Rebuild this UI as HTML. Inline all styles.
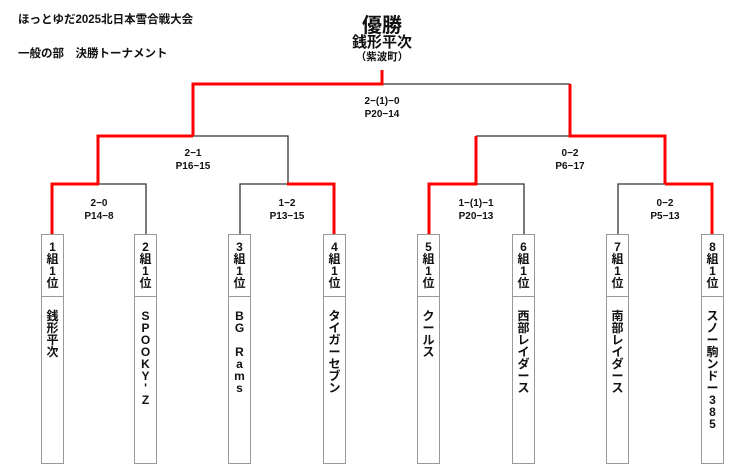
<!DOCTYPE html>
<html><head><meta charset="utf-8"><style>
body{margin:0;width:740px;height:467px;background:#fff;position:relative;overflow:hidden;font-family:"Liberation Sans","Noto Sans CJK JP",sans-serif;color:#111}
.t{position:absolute;font-weight:bold;white-space:nowrap}
.c{position:absolute;text-align:center;font-size:10px;line-height:13px;font-weight:bold;width:100px}
.box{position:absolute;top:234px;width:23px;height:230px;border:1px solid #999;box-sizing:border-box;background:#fff}
.box .h{height:62px;border-bottom:1px solid #999;padding-top:6px;box-sizing:border-box}
.col{display:flex;flex-direction:column;align-items:center;font-size:12px;font-weight:bold;line-height:12px}
.col span{height:12px}
.n{padding-top:13px}
</style></head><body>
<div class="t" style="left:18px;top:11px;font-size:11.5px">ほっとゆだ2025北日本雪合戦大会</div>
<div class="t" style="left:18px;top:45px;font-size:11.5px">一般の部　決勝トーナメント</div>
<div class="t" style="left:332px;top:9px;width:100px;text-align:center;font-size:20px">優勝</div>
<div class="t" style="left:332px;top:31px;width:100px;text-align:center;font-size:15px">銭形平次</div>
<div class="t" style="left:332px;top:49px;width:100px;text-align:center;font-size:10.5px">（紫波町）</div>
<svg width="740" height="467" style="position:absolute;left:0;top:0">
<g fill="none" stroke="#333" stroke-width="1.3">
<polyline points="382,84 570,84"/>
<polyline points="193,136 288,136 288,184"/>
<polyline points="476,136 570,136"/>
<polyline points="99,184 146,184 146,234"/>
<polyline points="240,234 240,184 287,184"/>
<polyline points="476,184 524,184 524,234"/>
<polyline points="618,234 618,184 665,184"/>
</g>
<g fill="none" stroke="#f00" stroke-width="3">
<polyline points="382,70 382,84 193,84 193,136"/>
<polyline points="193,136 98,136 98,184"/>
<polyline points="99,184 52,184 52,234"/>
<polyline points="287,184 334,184 334,234"/>
<polyline points="570,84 570,136 665,136 665,184"/>
<polyline points="476,136 476,184 429,184 429,234"/>
<polyline points="665,184 712,184 712,234"/>
</g>
</svg>
<div class="c" style="left:332px;top:95px">2−(1)−0<br>P20−14</div>
<div class="c" style="left:143px;top:147px">2−1<br>P16−15</div>
<div class="c" style="left:520px;top:147px">0−2<br>P6−17</div>
<div class="c" style="left:49px;top:197px">2−0<br>P14−8</div>
<div class="c" style="left:237px;top:197px">1−2<br>P13−15</div>
<div class="c" style="left:426px;top:197px">1−(1)−1<br>P20−13</div>
<div class="c" style="left:615px;top:197px">0−2<br>P5−13</div>

<div class="box" style="left:41px"><div class="h col"><span>1</span><span>組</span><span>1</span><span>位</span></div><div class="col n"><span>銭</span><span>形</span><span>平</span><span>次</span></div></div>
<div class="box" style="left:134px"><div class="h col"><span>2</span><span>組</span><span>1</span><span>位</span></div><div class="col n"><span>S</span><span>P</span><span>O</span><span>O</span><span>K</span><span>Y</span><span>'</span><span>Z</span></div></div>
<div class="box" style="left:228px"><div class="h col"><span>3</span><span>組</span><span>1</span><span>位</span></div><div class="col n"><span>B</span><span>G</span><span></span><span>R</span><span>a</span><span>m</span><span>s</span></div></div>
<div class="box" style="left:323px"><div class="h col"><span>4</span><span>組</span><span>1</span><span>位</span></div><div class="col n"><span>タ</span><span>イ</span><span>ガ</span><span>ー</span><span>セ</span><span>ブ</span><span>ン</span></div></div>
<div class="box" style="left:417px"><div class="h col"><span>5</span><span>組</span><span>1</span><span>位</span></div><div class="col n"><span>ク</span><span>ー</span><span>ル</span><span>ス</span></div></div>
<div class="box" style="left:512px"><div class="h col"><span>6</span><span>組</span><span>1</span><span>位</span></div><div class="col n"><span>西</span><span>部</span><span>レ</span><span>イ</span><span>ダ</span><span>ー</span><span>ス</span></div></div>
<div class="box" style="left:606px"><div class="h col"><span>7</span><span>組</span><span>1</span><span>位</span></div><div class="col n"><span>南</span><span>部</span><span>レ</span><span>イ</span><span>ダ</span><span>ー</span><span>ス</span></div></div>
<div class="box" style="left:701px"><div class="h col"><span>8</span><span>組</span><span>1</span><span>位</span></div><div class="col n"><span>ス</span><span>ノ</span><span>ー</span><span>駒</span><span>ン</span><span>ド</span><span>ー</span><span>3</span><span>8</span><span>5</span></div></div>
</body></html>
